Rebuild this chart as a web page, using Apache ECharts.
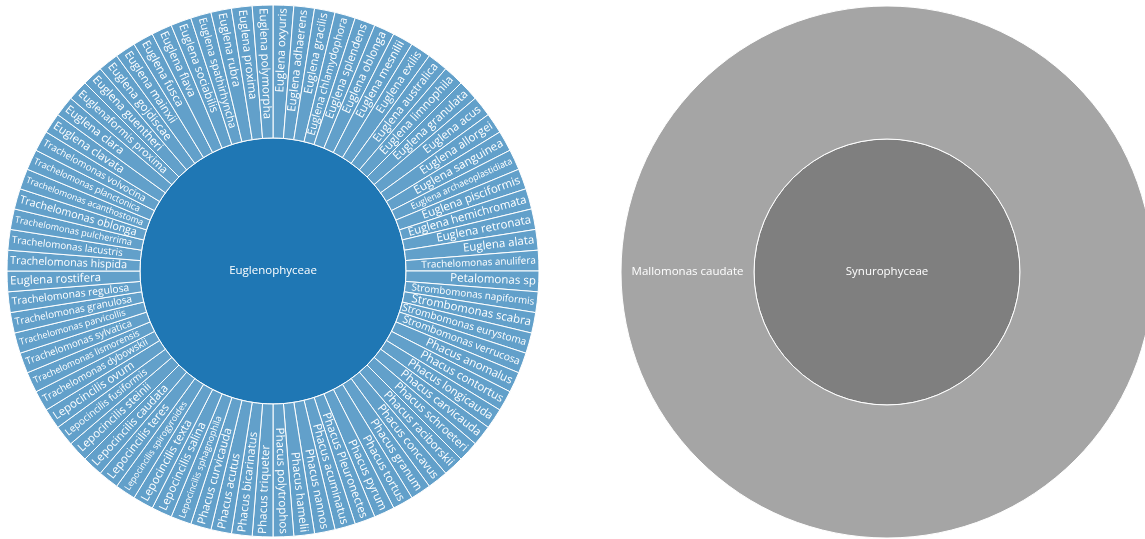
<!DOCTYPE html>
<html>
<head>
<meta charset="utf-8">
<script src="https://cdn.jsdelivr.net/npm/echarts@6/dist/echarts.min.js"></script>
<style>
  html, body { margin: 0; padding: 0; background: #fff; }
  #chart { width: 1145px; height: 539px; }
</style>
</head>
<body>
<div id="chart"></div>
<script>
// class names (inner ring)
var classNames = ['Euglenophyceae', 'Synurophyceae'];

// species of Euglenophyceae, clockwise from 12 o'clock
var euglenoSpecies = [
  'Euglena oxyuris', 'Euglena adhaerens', 'Euglena gracilis', 'Euglena chlamydophora',
  'Euglena splendens', 'Euglena oblonga', 'Euglena mesnilii', 'Euglena exilis',
  'Euglena australica', 'Euglena limnophila', 'Euglena granulata', 'Euglena acus',
  'Euglena allorgei', 'Euglena sanguinea', 'Euglena archaeoplastidiata', 'Euglena pisciformis',
  'Euglena hemichromata', 'Euglena retronata', 'Euglena alata', 'Trachelomonas anulifera',
  'Petalomonas sp', 'Strombomonas napiformis', 'Strombomonas scabra', 'Strombomonas eurystoma',
  'Strombomonas verrucosa', 'Phacus anomalus', 'Phacus contortus', 'Phacus longicauda',
  'Phacus carvicauda', 'Phacus schroeteri', 'Phacus raciborskii', 'Phacus concavus',
  'Phacus granum', 'Phacus tortus', 'Phacus pyrum', 'Phacus Pleuronectes',
  'Phacus acuminatus', 'Phacus nannos', 'Phacus hamelii', 'Phacus polytrophos',
  'Phacus triqueter', 'Phacus bicarinatus', 'Phacus acutus', 'Phacus curvicauda',
  'Lepocincilis sphagnophila', 'Lepocincilis salina', 'Lepocincilis texta', 'Lepocincilis spirogyroides',
  'Lepocincilis teres', 'Lepocincilis caudata', 'Lepocincilis steinii', 'Lepocincilis fusiformis',
  'Lepocincilis ovum', 'Trachelomonas dybowskii', 'Trachelomonas lismorensis', 'Trachelomonas sylvatica',
  'Trachelomonas parvicollis', 'Trachelomonas granulosa', 'Trachelomonas regulosa', 'Euglena rostifera',
  'Trachelomonas hispida', 'Trachelomonas lacustris', 'Trachelomonas pulcherrima', 'Trachelomonas oblonga',
  'Trachelomonas acanthostoma', 'Trachelomonas planctonica', 'Trachelomonas volvocina', 'Euglena clavata',
  'Euglena clara', 'Euglenaformis proxima', 'Euglena guentheri', 'Euglena gojdiscae',
  'Euglena mainxii', 'Euglena fusca', 'Euglena flava', 'Euglena sociabilis',
  'Euglena spathirhyncha', 'Euglena rubra', 'Euglena proxima', 'Euglena polymorpha'
];
var euglenoCounts = euglenoSpecies.map(function () { return 1; });

// species of Synurophyceae
var synuroSpecies = ['Mallomonas caudate'];
var synuroCounts = [1];

var FONT = 'Open Sans';

// shrink long names so they fit in the ring, like the original
function fitSize(name) {
  return Math.max(8.8, Math.min(11.5, 118 / (name.length * 0.52)));
}

function leaves(names, counts) {
  return names.map(function (n, i) {
    return { name: n, value: counts[i], label: { fontSize: fitSize(n) } };
  });
}

var chart = echarts.init(document.getElementById('chart'));

chart.setOption({
  backgroundColor: '#fff',
  textStyle: { fontFamily: FONT },
  series: [
    {
      type: 'sunburst',
      center: [273, 271],
      radius: [0, 266],
      sort: null,
      startAngle: 90,
      nodeClick: false,
      data: [{
        name: classNames[0],
        children: leaves(euglenoSpecies, euglenoCounts)
      }],
      itemStyle: { borderColor: '#fff', borderWidth: 1 },
      levels: [
        {},
        {
          itemStyle: { color: '#1f77b4' },
          label: { rotate: 0, color: '#fff', fontSize: 11.5, fontFamily: FONT }
        },
        {
          itemStyle: { color: '#62a0ca' },
          label: { rotate: 'radial', align: 'right', distance: 3, color: '#fff', fontFamily: FONT }
        }
      ],
      emphasis: { disabled: true }
    },
    {
      type: 'sunburst',
      center: [887, 272],
      radius: [0, 266],
      sort: null,
      startAngle: 0,
      nodeClick: false,
      data: [{
        name: classNames[1],
        children: leaves(synuroSpecies, synuroCounts).map(function (d) {
          d.label = { fontSize: 11.5, rotate: 0 };
          return d;
        })
      }],
      itemStyle: { borderColor: '#fff', borderWidth: 1 },
      levels: [
        {},
        {
          itemStyle: { color: '#7f7f7f' },
          label: { rotate: 0, color: '#fff', fontSize: 11.5, fontFamily: FONT }
        },
        {
          itemStyle: { color: '#a5a5a5' },
          label: { rotate: 0, color: '#fff', fontSize: 11.5, fontFamily: FONT }
        }
      ],
      emphasis: { disabled: true }
    }
  ]
});
</script>
</body>
</html>
